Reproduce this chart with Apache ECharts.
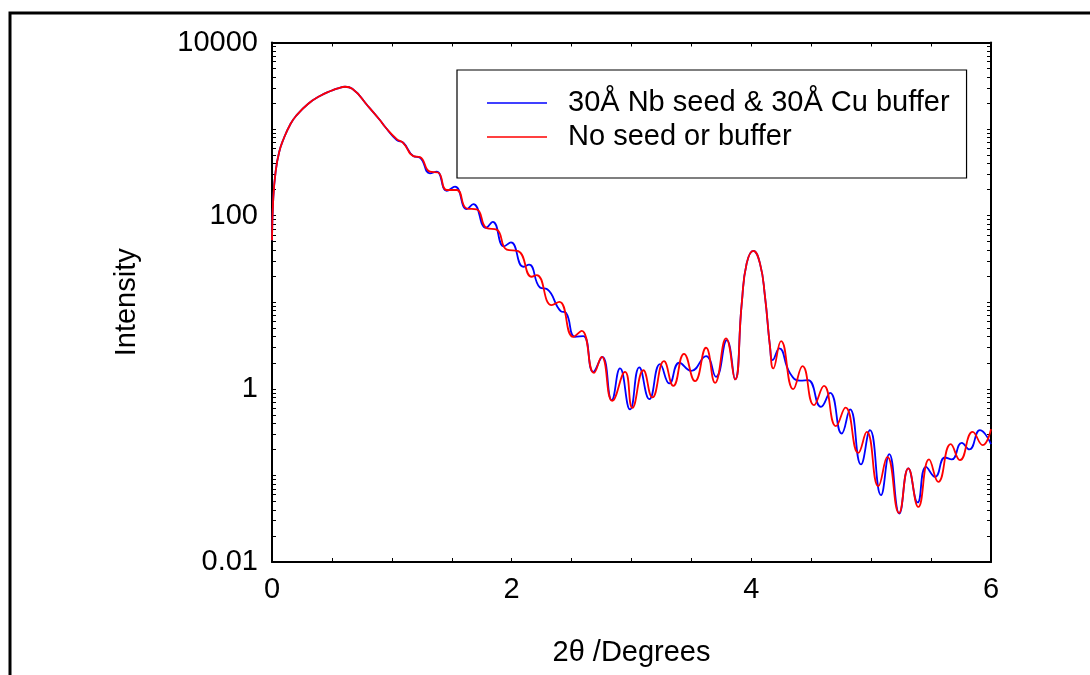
<!DOCTYPE html>
<html><head><meta charset="utf-8">
<script src="https://cdn.jsdelivr.net/npm/echarts@6/dist/echarts.min.js"></script>
<style>html,body{margin:0;padding:0;background:#fff}#c{width:1090px;height:675px}</style>
</head><body><div id="c"></div>
<script>
// ---- data ----
const seriesNames = ['30Å Nb seed & 30Å Cu buffer', 'No seed or buffer'];
// common low-angle part (both curves coincide)
const sharedX = [0, 0.01, 0.03, 0.06, 0.1, 0.15, 0.2, 0.3, 0.4, 0.5, 0.55, 0.61, 0.67, 0.8, 0.9];
const sharedI = [52, 152, 320, 544, 789, 1115, 1416, 1950, 2411, 2791, 2958, 3083, 2920, 1849, 1274];
// blue: 30Å Nb seed & 30Å Cu buffer
const blueX = [0.943,1.041,1.096,1.179,1.235,1.318,1.374,1.458,1.527,1.625,1.680,1.786,1.842,1.936,1.994,2.097,2.145,2.236,2.297,2.409,2.453,2.529,2.598,2.681,2.756,2.835,2.904,2.988,3.065,3.149,3.238,3.316,3.399,3.497,3.622,3.705,3.795,3.864,3.920,3.961,4.017,4.072,4.114,4.156,4.178,4.233,4.323,4.406,4.473,4.581,4.657,4.754,4.824,4.915,4.990,5.082,5.151,5.235,5.310,5.388,5.458,5.533,5.616,5.672,5.756,5.819,5.908,6.0];
const blueI = [1064,747,695,488,467,308,322,194,216,119,136,72.5,85.0,44.2,49.1,25.7,27.2,14.8,14.1,7.90,7.55,3.99,4.06,1.57,2.34,0.740,1.72,0.578,1.77,0.760,1.93,1.154,2.00,1.61,2.39,1.376,3.65,1.284,9.70,28.1,39.3,28.1,11.6,3.06,2.15,2.93,1.51,1.244,1.26,0.619,0.899,0.305,0.578,0.1338,0.333,0.0591,0.176,0.0363,0.1203,0.0487,0.1256,0.0962,0.161,0.153,0.238,0.1995,0.333,0.230];
// red: No seed or buffer
const redX = [0.943,1.041,1.096,1.179,1.235,1.318,1.385,1.458,1.541,1.625,1.708,1.792,1.875,1.959,2.055,2.167,2.209,2.334,2.398,2.514,2.584,2.687,2.751,2.840,2.946,3.007,3.099,3.174,3.271,3.349,3.438,3.530,3.622,3.697,3.789,3.864,3.920,3.961,4.017,4.072,4.114,4.156,4.183,4.248,4.350,4.427,4.523,4.606,4.706,4.786,4.893,4.963,5.060,5.135,5.232,5.310,5.393,5.483,5.560,5.664,5.741,5.847,5.931,6.0];
const redI = [1064,767,690,488,475,322,315,198,198,121,118,71.9,69.1,40.6,39.0,19.7,20.6,9.27,10.1,3.99,4.68,1.53,2.34,0.727,1.57,0.603,1.64,0.795,2.09,1.083,2.54,1.227,2.98,1.173,3.82,1.284,9.70,28.1,39.3,28.1,11.6,3.06,1.72,3.56,0.992,1.83,0.648,1.083,0.371,0.606,0.182,0.318,0.0751,0.164,0.0369,0.1203,0.0433,0.153,0.0842,0.230,0.150,0.318,0.224,0.342];
// tick labels
const xTickLabels = [0, 2, 4, 6];
const yTickLabels = [0.01, 1, 100, 10000];

// ---- build ----
function pairs(xs, ys) { return xs.map((x, i) => [x, ys[i]]); }
const blueData = pairs(sharedX, sharedI).concat(pairs(blueX, blueI));
const redData = pairs(sharedX, sharedI).concat(pairs(redX, redI));
const yTicks = [];
for (let k = -2; k <= 3; k++) for (let m = 1; m <= 9; m++) yTicks.push(+(m * Math.pow(10, k)).toPrecision(3));
yTicks.push(10000);

const FONT = '"Liberation Sans", Arial, Helvetica, sans-serif';
const axisLineStyle = { color: '#000', width: 2 };
const tickStyle = { color: '#000', width: 1 };

function xAx(pos, main) {
  return {
    type: 'value', position: pos, min: 0, max: 6, interval: 0.5,
    axisLine: { show: true, onZero: false, lineStyle: axisLineStyle },
    axisTick: { show: true, inside: true, length: 4, lineStyle: tickStyle },
    axisLabel: main ? { show: true, customValues: xTickLabels, color: '#000', fontSize: 29, fontFamily: FONT, margin: 13 } : { show: false },
    splitLine: { show: false },
    name: main ? '2θ /Degrees' : '', nameLocation: 'middle', nameGap: 76,
    nameTextStyle: { color: '#000', fontSize: 29, fontFamily: FONT }
  };
}
function yAx(pos, main) {
  return {
    type: 'log', logBase: 10, position: pos, min: 0.01, max: 10000,
    axisLine: { show: true, onZero: false, lineStyle: axisLineStyle },
    axisTick: { show: true, inside: true, length: 4, customValues: yTicks, lineStyle: tickStyle },
    minorTick: { show: false },
    axisLabel: main ? { show: true, customValues: yTickLabels, color: '#000', fontSize: 29, fontFamily: FONT, margin: 14,
      formatter: v => String(+(+v).toPrecision(6)) } : { show: false },
    splitLine: { show: false },
    name: main ? 'Intensity' : '', nameLocation: 'middle', nameGap: 131, nameRotate: 90,
    nameTextStyle: { color: '#000', fontSize: 29, fontFamily: FONT }
  };
}

const chart = echarts.init(document.getElementById('c'), null, { renderer: 'canvas' });
chart.setOption({
  animation: false,
  backgroundColor: '#fff',
  textStyle: { fontFamily: FONT },
  grid: { left: 272, top: 42.5, right: 99, bottom: 113, containLabel: false },
  xAxis: [xAx('bottom', true), xAx('top', false)],
  yAxis: [yAx('left', true), yAx('right', false)],
  legend: {
    data: seriesNames, orient: 'vertical', left: 457, top: 70,
    icon: 'rect', itemWidth: 60, itemHeight: 1.5, itemGap: 0,
    padding: [16, 17, 24, 30],
    borderColor: '#000', borderWidth: 1.2, backgroundColor: '#fff',
    textStyle: { color: '#000', fontSize: 29, fontFamily: FONT, lineHeight: 34, padding: [0, 0, 0, 16] }
  },
  graphic: [{
    type: 'rect', silent: true,
    shape: { x: 10, y: 13, width: 1200, height: 800 },
    style: { fill: 'none', stroke: '#000', lineWidth: 3 }
  }],
  series: [
    { name: seriesNames[0], type: 'line', data: blueData, symbol: 'none', smooth: 0.5,
      lineStyle: { color: '#0000ff', width: 1.8 }, itemStyle: { color: '#0000ff' } },
    { name: seriesNames[1], type: 'line', data: redData, symbol: 'none', smooth: 0.5,
      lineStyle: { color: '#ff0000', width: 1.8 }, itemStyle: { color: '#ff0000' } }
  ]
});
</script></body></html>
